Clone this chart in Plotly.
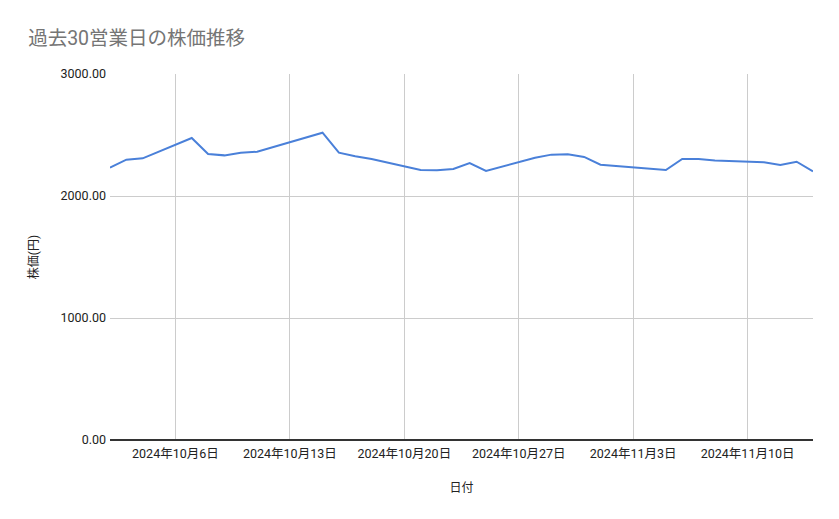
import plotly.graph_objects as go

# 日付と終値(円)
dates = [
    "2024-10-02", "2024-10-03", "2024-10-04", "2024-10-07", "2024-10-08",
    "2024-10-09", "2024-10-10", "2024-10-11", "2024-10-15", "2024-10-16",
    "2024-10-17", "2024-10-18", "2024-10-21", "2024-10-22", "2024-10-23",
    "2024-10-24", "2024-10-25", "2024-10-28", "2024-10-29", "2024-10-30",
    "2024-10-31", "2024-11-01", "2024-11-05", "2024-11-06", "2024-11-07",
    "2024-11-08", "2024-11-11", "2024-11-12", "2024-11-13", "2024-11-14",
]
prices = [
    2232, 2298, 2309, 2475, 2344,
    2333, 2355, 2363, 2519, 2355,
    2325, 2303, 2213, 2211, 2222,
    2270, 2205, 2314, 2339, 2342,
    2320, 2257, 2213, 2303, 2303,
    2290, 2276, 2254, 2281, 2202,
]

tick_dates = ["2024-10-06", "2024-10-13", "2024-10-20", "2024-10-27", "2024-11-03", "2024-11-10"]
tick_labels = ["2024年10月6日", "2024年10月13日", "2024年10月20日",
               "2024年10月27日", "2024年11月3日", "2024年11月10日"]
y_ticks = [0, 1000, 2000, 3000]

font_family = "Roboto, Noto Sans CJK JP, sans-serif"

fig = go.Figure()
fig.add_trace(go.Scatter(
    x=dates,
    y=prices,
    mode="lines",
    line=dict(color="#4A80D9", width=2),
    showlegend=False,
))

fig.update_layout(
    width=839,
    height=519,
    paper_bgcolor="white",
    plot_bgcolor="white",
    font=dict(family=font_family, size=12, color="#222222"),
    title=dict(
        text="過去30営業日の株価推移",
        x=0.024, xanchor="left",
        y=0.942, yanchor="middle",
        font=dict(size=19.5, color="#757575"),
    ),
    margin=dict(l=102, r=34, t=66, b=87),
    xaxis=dict(
        type="date",
        range=["2024-10-02", "2024-11-14"],
        tickvals=tick_dates,
        ticktext=tick_labels,
        showgrid=True,
        gridcolor="#cccccc",
        gridwidth=1,
        zeroline=False,
        showline=False,
        ticks="",
        ticklabelstandoff=4,
        tickfont=dict(size=12.5, color="#222222"),
        title=dict(text="日付", font=dict(size=12, color="#222222"), standoff=24),
    ),
    yaxis=dict(
        range=[0, 3000],
        tickvals=y_ticks,
        tickformat=".2f",
        showgrid=True,
        gridcolor="#cccccc",
        gridwidth=1,
        zeroline=True,
        zerolinecolor="#333333",
        zerolinewidth=1.5,
        showline=False,
        ticks="",
        ticklabelstandoff=3,
        tickfont=dict(size=12.5, color="#222222"),
        title=dict(text="株価(円)", font=dict(size=12, color="#222222"), standoff=19),
    ),
)

fig.write_html("out.html")
